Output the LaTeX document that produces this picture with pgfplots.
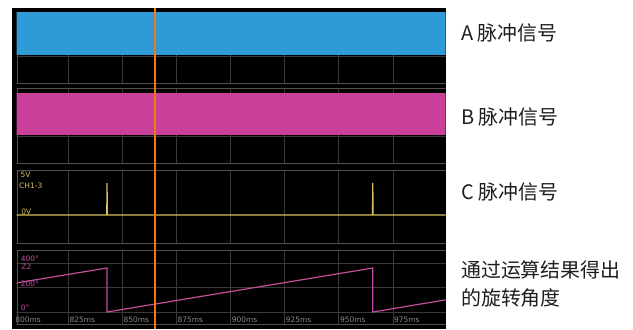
\documentclass[border=0pt]{standalone}
\usepackage{fontspec}
\setmainfont{DejaVu Sans}
\newfontfamily\cjk{Noto Sans CJK SC}
\usepackage{pgfplots}
\pgfplotsset{compat=1.18}
\definecolor{chA}{HTML}{2E9BD6}
\definecolor{chB}{HTML}{C8409A}
\definecolor{chC}{HTML}{D6C060}
\definecolor{chZ}{HTML}{C24C9E}
\definecolor{gridc}{HTML}{3A3A3A}
\definecolor{framec}{HTML}{505050}
\definecolor{cursor}{HTML}{F07A10}
\definecolor{lbl}{HTML}{8A8A8A}
\definecolor{txt}{HTML}{1E1E1E}
\pgfplotsset{panel/.style={
  scale only axis, width=432.8bp, xmin=800, xmax=1000,
  anchor=south west,
  axis background/.style={fill=black},
  axis line style={framec, line width=0.8bp},
  xtick={825,850,...,975}, xmajorgrids, ymajorgrids,
  grid style={gridc, line width=0.7bp},
  major tick length=0pt,
  xticklabel=\empty, yticklabel=\empty,
  extra x ticks={801.3}, extra x tick labels={},
  extra x tick style={grid style={framec, line width=0.8bp}},
}}
\begin{document}
\begin{tikzpicture}[x=1bp,y=1bp]
\useasboundingbox (0,0) rectangle (633,329);
\fill[black] (12,0) rectangle (445.7,321);
\begin{scope}
\clip (16.5,0) rectangle (445.7,321);
% Panel A
\begin{axis}[panel, at={(14.2bp,246bp)}, height=71bp, ymin=-3.35, ymax=5.1, ytick={-0.2}]
\addplot[draw=none, fill=chA] coordinates {(800,5.1)(1000,5.1)} \closedcycle;
\end{axis}
% Panel B
\begin{axis}[panel, at={(14.2bp,166bp)}, height=75bp, ymin=-3.33, ymax=5.6, ytick={-0.15}]
\addplot[draw=none, fill=chB] coordinates {(800,5.0)(1000,5.0)} \closedcycle;
\end{axis}
% Panel C
\begin{axis}[panel, at={(14.2bp,86bp)}, height=73bp, ymin=-3.89, ymax=6.25, ytick=\empty]
\addplot[chC, line width=1.3bp] coordinates {
(800,0)(842.8,0)(842.9,4.44)(843.0,0)(965.6,0)(965.7,4.44)(965.8,0)(1000,0)};
\node[anchor=west, text=chC, font=\fontsize{7.5}{8}\selectfont, inner sep=0.5bp] at (axis cs:802.6,5.56) {5V};
\node[anchor=west, text=chC, font=\fontsize{7.5}{8}\selectfont, inner sep=0.5bp] at (axis cs:802.0,4.03) {CH1-3};
\node[anchor=west, text=chC, font=\fontsize{7.5}{8}\selectfont, inner sep=0.5bp] at (axis cs:803.0,0.45) {0V};
\end{axis}
% Panel angle
\begin{axis}[panel, at={(14.2bp,5bp)}, height=74bp, ymin=-98, ymax=506, clip=false,
  xtick={800,825,...,975},
  xticklabels={800ms,825ms,850ms,875ms,900ms,925ms,950ms,975ms},
  xticklabel style={anchor=south west, text=lbl, font=\fontsize{7.5}{8}\selectfont, inner sep=1bp},
  ytick={0,200,400}, yticklabels={0°,200°,400°},
  yticklabel style={anchor=south west, text=chZ, font=\fontsize{7.5}{8}\selectfont, inner sep=1bp, xshift=5.5bp},
  ]
\addplot[chZ, line width=1.2bp] coordinates {
(800,234)(842.9,359)(842.9,0)(965.7,359)(965.7,0)(1000,101)};
\node[anchor=west, text=chZ, font=\fontsize{7.5}{8}\selectfont, inner sep=0.5bp] at (axis cs:803.0,367) {Z2};
\addplot[cursor, line width=1.3bp] coordinates {(865,-139)(865,2482)};
\end{axis}
\end{scope}
% Right-hand captions
\begin{scope}[every node/.style={anchor=west, inner sep=0pt, text=txt, font=\cjk\fontsize{20}{28}\selectfont}]
\node at (461,296) {A 脉冲信号};
\node at (461,212) {B 脉冲信号};
\node at (461,137) {C 脉冲信号};
\node at (461,59) {通过运算结果得出};
\node at (461,31) {的旋转角度};
\end{scope}
\end{tikzpicture}
\end{document}
